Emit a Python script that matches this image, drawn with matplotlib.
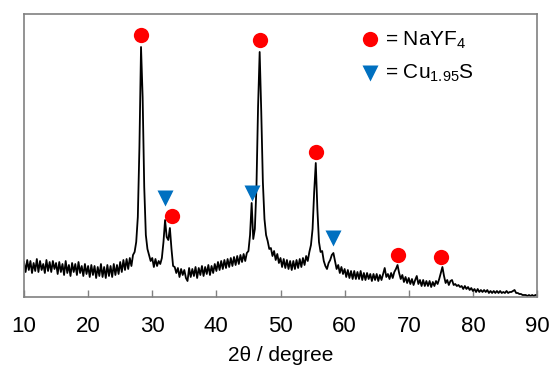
import numpy as np
import matplotlib
matplotlib.use("Agg")
import matplotlib.pyplot as plt

plt.rcParams['font.family'] = ['Liberation Sans', 'DejaVu Sans']
plt.rcParams['mathtext.default'] = 'regular'

# ---- data -------------------------------------------------------------
# scan: 2-theta from 10 to 90 deg, step 0.25 deg
two_theta_start = 10.0
two_theta_step = 0.25

# intensity (arbitrary units), 20 values per 5 degrees
intensity = [
    # 10.00 - 14.75
    35, 25, 37, 27, 36, 24, 34, 26, 38, 25, 36, 27, 33, 24, 37, 26, 35, 25, 36, 28,
    # 15.00 - 19.75
    34, 23, 35, 25, 33, 22, 36, 24, 32, 21, 34, 25, 33, 22, 35, 24, 31, 21, 33, 23,
    # 20.00 - 24.75
    31, 20, 32, 22, 31, 19, 30, 21, 33, 20, 30, 19, 32, 21, 31, 20, 33, 22, 32, 23,
    # 25.00 - 29.75
    35, 25, 37, 27, 38, 28, 39, 31, 42, 45, 55, 80, 150, 250, 200, 110, 62, 48, 42, 36,
    # 30.00 - 34.75
    39, 30, 38, 31, 36, 33, 39, 55, 77, 60, 57, 69, 48, 31, 30, 24, 29, 20, 28, 22,
    # 35.00 - 39.75
    27, 19, 16, 29, 20, 28, 21, 30, 19, 29, 22, 31, 21, 30, 23, 32, 22, 31, 24, 33,
    # 40.00 - 44.75
    26, 35, 27, 36, 28, 37, 29, 38, 30, 39, 31, 40, 32, 41, 33, 42, 35, 43, 36, 44,
    # 45.00 - 49.75
    46, 62, 94, 58, 68, 110, 190, 245, 185, 115, 78, 62, 56, 48, 49, 41, 46, 37, 43, 34,
    # 50.00 - 54.75
    39, 30, 38, 29, 37, 28, 36, 27, 36, 28, 37, 29, 38, 30, 39, 32, 41, 36, 45, 52,
    # 55.00 - 59.75
    68, 105, 134, 88, 55, 45, 46, 36, 31, 28, 34, 37, 42, 44, 36, 28, 32, 24, 30, 23,
    # 60.00 - 64.75
    28, 20, 27, 19, 26, 18, 26, 18, 25, 18, 26, 17, 24, 17, 24, 18, 23, 16, 23, 17,
    # 65.00 - 69.75
    23, 16, 22, 17, 23, 29, 20, 23, 18, 24, 19, 25, 28, 32, 24, 18, 22, 15, 20, 14,
    # 70.00 - 74.75
    19, 13, 18, 12, 17, 21, 13, 17, 11, 17, 11, 16, 11, 16, 10, 15, 11, 16, 13, 18,
    # 75.00 - 79.75
    24, 30, 21, 14, 17, 12, 16, 17, 12, 13, 11, 12, 10, 11, 8, 11, 8, 10, 7, 9,
    # 80.00 - 84.75
    6, 8, 5, 8, 5, 7, 5, 7, 5, 7, 4, 6, 4, 6, 4, 6, 4, 6, 4, 5,
    # 85.00 - 89.75
    4, 6, 4, 5, 5, 6, 7, 4, 4, 3, 3, 2, 2, 2, 1, 2, 1, 2, 1, 2,
    # 90.00
    2,
]

# phase markers (peak positions and marker heights)
nayf4_pos = [28.3, 33.15, 46.8, 55.5, 68.3, 75.1]
nayf4_mark = [262, 81, 257, 145, 42, 40]
cu2s_pos = [32.0, 45.55, 58.2]
cu2s_mark = [99, 104, 59]

legend_labels = [r'= NaYF$_4$', r'= Cu$_{1.95}$S']

x_ticks = [10, 20, 30, 40, 50, 60, 70, 80, 90]
x_label = '2θ / degree'

# ---- plot -------------------------------------------------------------
two_theta = two_theta_start + two_theta_step * np.arange(len(intensity))

fig = plt.figure(figsize=(5.51, 3.67), dpi=100)
ax = fig.add_axes([24 / 551, 1 - 297 / 367, 513 / 551, 283 / 367])

ax.plot(two_theta, intensity, color='black', lw=1.3, zorder=2)

red = '#ff0000'
blue = '#0070c0'
ax.plot(nayf4_pos, nayf4_mark, 'o', color=red, ms=11, mec='none', zorder=3)
ax.plot(cu2s_pos, cu2s_mark, 'v', color=blue, ms=11, mec='none', zorder=3)

# legend (drawn inside the axes, top right)
ax.plot([64.0], [258], 'o', color=red, ms=11, mec='none')
ax.plot([64.0], [224], 'v', color=blue, ms=11, mec='none')
ax.text(66.3, 251.5, legend_labels[0], fontsize=15, va='baseline', ha='left')
ax.text(66.3, 218, legend_labels[1], fontsize=15, va='baseline', ha='left')

ax.set_xlim(10, 90)
ax.set_ylim(0, 283)
ax.set_xticks(x_ticks)
ax.set_yticks([])
ax.tick_params(axis='x', direction='in', length=5, width=1, color='#808080',
               labelsize=16, pad=13.5)
for s in ax.spines.values():
    s.set_color('#808080')
    s.set_linewidth(1.2)

ax.set_xlabel(x_label, fontsize=15, labelpad=6.8)

fig.savefig('out.png', dpi=100)
